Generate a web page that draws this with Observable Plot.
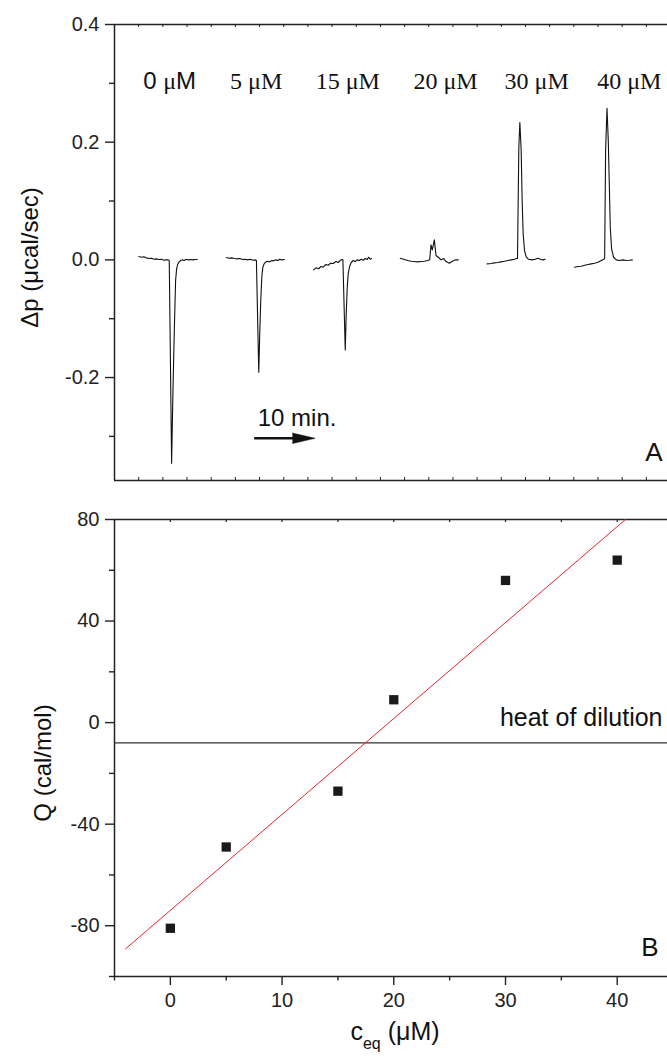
<!DOCTYPE html>
<html><head><meta charset="utf-8">
<script src="https://cdn.jsdelivr.net/npm/d3@7"></script>
<script src="https://cdn.jsdelivr.net/npm/@observablehq/plot@0.6"></script>
<style>
body{margin:0;background:#fff;}
#chart{width:667px;}
#chart svg{display:block;}
</style></head><body><div id="chart"></div>
<script>
// ---------- Panel A data (ITC raw heat traces; time in min, power in µcal/sec) ----------
const concLabels = ["0 μM", "5 μM", "15 μM", "20 μM", "30 μM", "40 μM"];
const labelTimes = [9.12, 23.45, 38.61, 54.77, 69.85, 85.18];

const trace0T = [4.03,4.48,4.86,5.25,5.69,6.13,6.52,6.91,7.35,7.79,8.18,8.56,8.90,9.06,9.45,9.61,9.78,9.95,10.11,10.28,10.44,10.66,10.94,11.22,11.55,11.88,12.21,12.60,12.98,13.32,13.70];
const trace0V = [0.0057,0.0045,0.0051,0.0034,0.0023,0.0028,0.0011,0.0017,0.0006,0.0011,-0.0006,0,0,-0.0011,-0.3456,-0.2561,-0.1711,-0.0975,-0.0351,-0.0153,-0.0079,-0.0040,-0.0011,0,-0.0011,0.0011,0,0.0006,0,0.0006,0.0006];

const trace1T = [18.51,18.95,19.39,19.83,20.28,20.72,21.16,21.60,22.04,22.49,22.93,23.32,23.48,23.87,24.03,24.20,24.37,24.53,24.75,25.03,25.36,25.69,26.02,26.35,26.69,27.02,27.35,27.68,28.12];
const trace1V = [0.0040,0.0028,0.0034,0.0023,0.0017,0.0023,0.0006,0.0011,0,0.0011,-0.0006,0,-0.0011,-0.1909,-0.1258,-0.0691,-0.0295,-0.0136,-0.0068,-0.0034,-0.0023,-0.0034,-0.0011,-0.0017,0,-0.0011,0.0011,0,0.0006];

const trace2T = [32.93,33.32,33.76,34.14,34.53,34.97,35.36,35.75,36.19,36.63,37.02,37.40,37.62,37.79,38.18,38.34,38.51,38.67,38.90,39.17,39.50,39.83,40.17,40.50,40.83,41.16,41.49,41.82,42.04,42.32,42.54];
const trace2V = [-0.0170,-0.0136,-0.0153,-0.0113,-0.0125,-0.0079,-0.0091,-0.0057,-0.0062,-0.0028,-0.0045,-0.0006,0.0006,0,-0.1530,-0.0918,-0.0465,-0.0238,-0.0113,-0.0045,-0.0011,-0.0028,0,-0.0011,0.0011,-0.0006,0.0023,0.0006,0.0045,0.0011,0.0023];

const trace3T = [47.28,47.85,48.51,49.05,49.60,50.17,50.71,51.26,51.82,52.15,52.37,52.59,52.92,53.20,53.58,54.03,54.47,54.85,55.40,55.85,56.35,56.89];
const trace3V = [0.0027,0.0010,-0.0012,-0.0024,-0.0029,-0.0034,-0.0029,-0.0024,-0.0012,0,0.0255,0.0170,0.0340,0.0073,0.0044,0,0.0022,-0.0029,-0.0058,-0.0029,0,0];

const trace4T = [61.65,62.31,62.86,63.42,63.97,64.52,65.08,65.63,66.17,66.51,66.68,66.90,67.07,67.29,67.45,67.62,67.84,68.11,68.50,69.06,69.61,70.05,70.48,70.88,71.26];
const trace4V = [-0.0068,-0.0063,-0.0051,-0.0046,-0.0034,-0.0024,-0.0012,0,0.0010,0.0022,0.0022,0.1914,0.2334,0.1858,0.1008,0.0442,0.0158,0.0056,0.0010,0,0.0010,0.0027,0.0010,0,0.0010];

const trace5T = [76.12,76.68,77.23,77.78,78.34,78.89,79.43,80.00,80.54,80.99,81.10,81.26,81.49,81.70,81.87,82.03,82.25,82.58,83.03,83.58,84.14,84.69,85.23,85.68];
const trace5V = [-0.0126,-0.0114,-0.0109,-0.0092,-0.0080,-0.0068,-0.0058,-0.0041,-0.0012,0.0010,0.0030,0.1858,0.2577,0.2028,0.1292,0.0554,0.0187,0.0044,0,-0.0012,0,-0.0012,-0.0007,0];

const yTicksA = [-0.2, 0, 0.2, 0.4];
const yMinorA = [-0.3, -0.1, 0.1, 0.3];
const scaleBar = {start: 23.2, minutes: 10, level: -0.3033};

// ---------- Panel B data ----------
const ceq = [0, 5, 15, 20, 30, 40];
const Qvals = [-81, -49, -27, 9, 56, 64];
const heatOfDilution = -8;
const fitRange = [-4, 45];
const xTicksB = [0, 10, 20, 30, 40];
const xMinorB = [-5, 5, 15, 25, 35];
const yTicksB = [-80, -40, 0, 40, 80];
const yMinorB = [-100, -60, -20, 20, 60];

// ---------- build ----------
const SANS = "'Liberation Sans', Arial, Helvetica, sans-serif";
const SERIF = "'Liberation Serif', 'Times New Roman', serif";
const INK = "#222";
const W = 667;

const traces = [[trace0T,trace0V],[trace1T,trace1V],[trace2T,trace2V],[trace3T,trace3V],[trace4T,trace4V],[trace5T,trace5V]];
const traceRows = traces.flatMap(([T, V], s) => T.map((t, i) => ({s, t, v: V[i]})));
const labelRows = concLabels.map((label, i) => ({label, t: labelTimes[i], i}));

const xDomA = [0, 91.5];
const yDomA = [-0.375, 0.4];
const frameHA = 500 - 24 - 20;
const edgeTicksA = d3.range(0, 92, 4);

const plotA = Plot.plot({
  width: W, height: 500,
  marginLeft: 114, marginRight: 0, marginTop: 24, marginBottom: 20,
  style: {fontFamily: SANS, fontSize: "20px", color: INK, background: "white", overflow: "visible"},
  x: {domain: xDomA, axis: null},
  y: {domain: yDomA},
  marks: [
    Plot.ruleX(edgeTicksA, {x: d => d, insetBottom: frameHA - 3, stroke: INK, strokeWidth: 1}),
    Plot.ruleX(edgeTicksA, {x: d => d, insetTop: frameHA - 3, stroke: INK, strokeWidth: 1}),
    Plot.ruleY([yDomA[1], yDomA[0]], {stroke: INK, strokeWidth: 1.5}),
    Plot.ruleX([xDomA[0]], {stroke: INK, strokeWidth: 1.5}),
    Plot.axisY(yTicksA, {tickSize: 9, tickPadding: 6, strokeWidth: 1.4, fontSize: 20, label: null, tickFormat: d => d.toFixed(1)}),
    Plot.axisY(yMinorA, {tickSize: 5, strokeWidth: 1.4, label: null, tickFormat: () => ""}),
    Plot.line(traceRows, {x: "t", y: "v", z: "s", stroke: "#111", strokeWidth: 1.1}),
    Plot.text(labelRows.filter(d => d.i === 0), {x: "t", text: "label", frameAnchor: "top", dy: 47, fontSize: 24, fontFamily: SANS, fill: "#111"}),
    Plot.text(labelRows.filter(d => d.i > 0), {x: "t", text: "label", frameAnchor: "top", dy: 47, fontSize: 24, fontFamily: SERIF, fill: "#111"}),
    Plot.ruleY([scaleBar], {x1: d => d.start, x2: d => d.start + d.minutes - 2, y: "level", stroke: "#111", strokeWidth: 2.4}),
    Plot.vector([scaleBar], {x: d => d.start + d.minutes, y: "level", rotate: 90, length: 22.7, r: 5.3, shape: "spike", anchor: "end", fill: "#111", stroke: "#111", strokeWidth: 0.5}),
    Plot.text([scaleBar], {x: "start", y: "level", text: d => `${d.minutes} min.`, textAnchor: "start", dx: 3, dy: -20, fontSize: 24, fill: "#111"}),
    Plot.text(["A"], {frameAnchor: "bottom-right", textAnchor: "end", dx: -5, dy: -20, fontSize: 26, fill: "#111"}),
    Plot.text(["Δp (μcal/sec)"], {frameAnchor: "left", textAnchor: "middle", rotate: -90, dx: -84, dy: 5, fontSize: 24, fill: "#111"})
  ]
});

// linear fit of Q vs c_eq
const mx = d3.mean(ceq), my = d3.mean(Qvals);
const slope = d3.sum(ceq, (x, i) => (x - mx) * (Qvals[i] - my)) / d3.sum(ceq, x => (x - mx) ** 2);
const intercept = my - slope * mx;
const fitRows = fitRange.map(x => ({x, y: intercept + slope * x}));
const pts = ceq.map((c, i) => ({c, q: Qvals[i]}));

const xDomB = [-5, 44.5];
const yDomB = [-100, 80];
const frameHB = 559 - 19 - 83;

const plotB = Plot.plot({
  width: W, height: 559,
  marginLeft: 114, marginRight: 0, marginTop: 19, marginBottom: 83,
  style: {fontFamily: SANS, fontSize: "20px", color: INK, background: "white", overflow: "visible"},
  x: {domain: xDomB},
  y: {domain: yDomB},
  marks: [
    Plot.ruleX(xMinorB.concat(xTicksB), {x: d => d, insetBottom: frameHB - 3, stroke: INK, strokeWidth: 1.2}),
    Plot.ruleY([yDomB[1], yDomB[0]], {stroke: INK, strokeWidth: 1.5}),
    Plot.ruleX([xDomB[0]], {stroke: INK, strokeWidth: 1.5}),
    Plot.axisY(yTicksB, {tickSize: 9, tickPadding: 6, strokeWidth: 1.4, fontSize: 20, label: null, tickFormat: d => String(d)}),
    Plot.axisY(yMinorB, {tickSize: 5, strokeWidth: 1.4, label: null, tickFormat: () => ""}),
    Plot.axisX(xTicksB, {anchor: "bottom", tickSize: 9, tickPadding: 7, strokeWidth: 1.4, fontSize: 20, label: null, tickFormat: d => String(d)}),
    Plot.axisX(xMinorB, {anchor: "bottom", tickSize: 4.5, strokeWidth: 1.4, label: null, tickFormat: () => ""}),
    Plot.ruleY([heatOfDilution], {stroke: "#333", strokeWidth: 1.2}),
    Plot.line(fitRows, {x: "x", y: "y", stroke: "#e8262a", strokeWidth: 1, clip: true}),
    Plot.dot(pts, {x: "c", y: "q", symbol: "square", r: 5.25, fill: "#1a1a1a", stroke: "none"}),
    Plot.text([heatOfDilution], {y: d => d, text: () => "heat of dilution", frameAnchor: "right", textAnchor: "end", dx: -5, dy: -25, fontSize: 25, fill: "#111"}),
    Plot.text(["B"], {frameAnchor: "bottom-right", textAnchor: "end", dx: -9, dy: -21, fontSize: 26, fill: "#111"}),
    Plot.text(["Q (cal/mol)"], {frameAnchor: "left", textAnchor: "middle", rotate: -90, dx: -71, dy: 15, fontSize: 24, fill: "#111"}),
    Plot.text(["ceq (μM)"], {frameAnchor: "bottom", dx: 4, dy: 63, fontSize: 25, fill: "#111"})
  ]
});

const root = document.getElementById("chart");
root.appendChild(plotA);
root.appendChild(plotB);

// rich text: serif µ in the 0 µM label, subscript in c_eq
for (const t of root.querySelectorAll("text")) {
  const s = t.textContent;
  if (s === "ceq (μM)") {
    t.innerHTML = 'c<tspan dy="9" font-size="16">eq</tspan><tspan dy="-9"> (μM)</tspan>';
  } else if (s === "0 μM") {
    t.innerHTML = '0 <tspan font-family="' + SERIF + '">μ</tspan>M';
  }
}
</script>
</body></html>
